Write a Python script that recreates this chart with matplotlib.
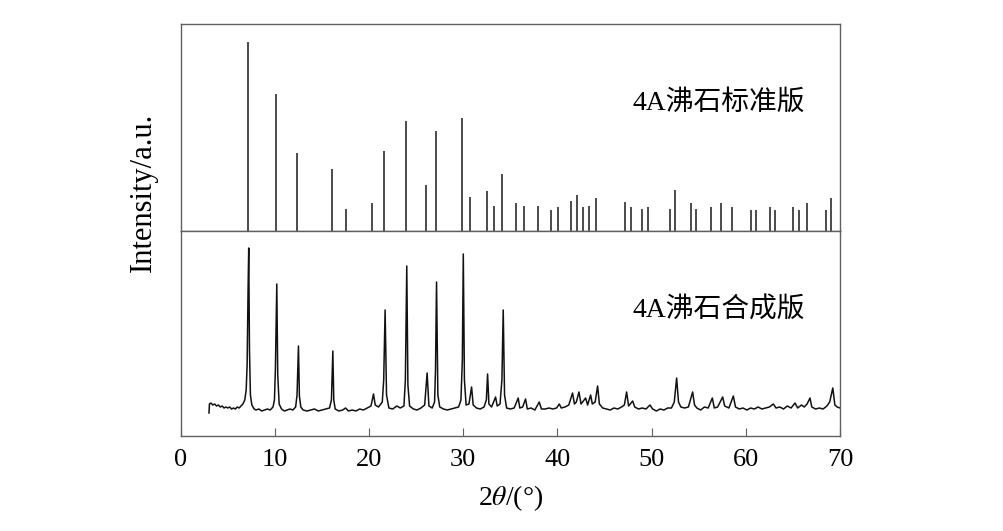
import matplotlib
matplotlib.use("Agg")
import matplotlib.pyplot as plt

plt.rcParams['font.family'] = ['Liberation Serif', 'Noto Sans CJK SC']
plt.rcParams['mathtext.fontset'] = 'stix'

# standard card (stick pattern): 2theta and relative intensity
std_2theta = [7.15, 10.09, 12.39, 16.04, 17.56, 20.32, 21.60, 23.94, 26.03, 27.05,
              29.88, 30.73, 32.47, 33.25, 34.10, 35.62, 36.40, 37.89, 39.27, 40.05,
              41.39, 42.07, 42.74, 43.38, 44.08, 47.20, 47.77, 48.97, 49.57, 51.91,
              52.44, 54.14, 54.70, 56.33, 57.36, 58.49, 60.51, 61.08, 62.57, 63.13,
              65.04, 65.65, 66.53, 68.52, 69.05]
std_int = [189, 137, 78, 62, 22, 28, 80, 110, 46, 100,
           113, 34, 40, 25, 57, 28, 25, 25, 21, 24,
           30, 36, 24, 25, 33, 29, 24, 22, 24, 22,
           41, 28, 22, 24, 28, 24, 21, 21, 24, 21,
           24, 21, 28, 21, 33]

# synthesized sample (measured trace)
syn_2theta = [3.0, 3.05, 3.2, 3.4, 3.6, 3.8, 4.0, 4.2, 4.4, 4.6, 4.8, 5.0, 5.2, 5.4,
              5.6, 5.8, 6.0, 6.2, 6.4, 6.6, 6.8, 6.95, 7.05, 7.15, 7.22, 7.3, 7.4,
              7.55, 7.8, 8.0, 8.3, 8.6, 8.9, 9.2, 9.5, 9.8, 9.95, 10.05, 10.2, 10.3,
              10.45, 10.7, 11.0, 11.3, 11.6, 11.9, 12.2, 12.35, 12.5, 12.6, 12.75,
              13.0, 13.4, 13.8, 14.2, 14.6, 15.0, 15.4, 15.8, 16.0, 16.15, 16.25,
              16.4, 16.8, 17.2, 17.5, 17.8, 18.2, 18.6, 19.0, 19.4, 19.8, 20.2,
              20.47, 20.65, 21.0, 21.4, 21.55, 21.7, 21.85, 22.1, 22.5, 22.95,
              23.3, 23.7, 23.85, 24.0, 24.12, 24.3, 24.7, 25.1, 25.5, 25.9, 26.16,
              26.35, 26.7, 26.95, 27.05, 27.16, 27.3, 27.5, 27.9, 28.3, 28.7, 29.1,
              29.5, 29.75, 29.9, 30.0, 30.12, 30.3, 30.6, 30.88, 31.05, 31.4, 31.8,
              32.2, 32.45, 32.58, 32.72, 33.0, 33.43, 33.6, 33.9, 34.1, 34.24,
              34.38, 34.6, 35.0, 35.4, 35.83, 36.0, 36.3, 36.61, 36.8, 37.2, 37.6,
              38.06, 38.3, 38.7, 39.1, 39.5, 39.9, 40.19, 40.4, 40.8, 41.2, 41.6,
              41.8, 42.0, 42.28, 42.5, 42.99, 43.2, 43.52, 43.7, 44.0, 44.26,
              44.45, 44.8, 45.2, 45.6, 46.0, 46.4, 46.8, 47.1, 47.34, 47.55,
              47.98, 48.2, 48.6, 49.0, 49.4, 49.82, 50.1, 50.5, 50.9, 51.3, 51.7,
              52.1, 52.4, 52.65, 52.85, 53.1, 53.5, 53.9, 54.35, 54.55, 54.8,
              55.2, 55.6, 56.0, 56.44, 56.65, 57.0, 57.54, 57.75, 58.2, 58.67,
              58.9, 59.3, 59.7, 60.1, 60.5, 60.9, 61.3, 61.7, 62.1, 62.5, 62.92,
              63.2, 63.6, 64.0, 64.4, 64.8, 65.22, 65.5, 65.9, 66.2, 66.5, 66.81,
              67.0, 67.4, 67.8, 68.2, 68.6, 68.9, 69.23, 69.45, 69.7, 70.0]
syn_int = [-3, 6, 7, 5, 6, 4, 5, 3, 4, 2, 3, 2, 3, 1,
           2, 1, 3, 2, 4, 6, 10, 20, 45, 120, 162, 60, 15,
           5, 1, 0, 1, -1, 0, 1, 0, 3, 10, 40, 126, 35,
           6, 1, -1, 0, 1, 0, 3, 15, 64, 14, 3,
           0, -1, 0, 1, -1, 0, 1, 2, 10, 59, 10,
           1, -1, 0, 2, -1, 0, -1, 1, 0, 2, 4,
           16, 5, 3, 8, 30, 100, 15, 2, 1, 4,
           2, 4, 30, 144, 25, 4, 1, 0, 2, 5, 37,
           4, 2, 8, 40, 128, 15, 3, 1, 0, 1, 2,
           3, 10, 50, 156, 30, 5, 6, 23, 5, 2, 1,
           3, 10, 36, 6, 3, 13, 4, 6, 30, 100,
           15, 2, 1, 2, 12, 2, 3, 11, 1, 2, 0,
           8, 1, 1, 2, 1, 2, 6, 2, 3, 5, 17,
           6, 8, 18, 6, 12, 5, 15, 6, 8, 24,
           6, 2, 1, 0, 2, 1, 3, 5, 18, 4,
           9, 3, 1, 2, 1, 5, 1, -1, 1, 0, 2,
           2, 8, 32, 8, 3, 2, 3, 18, 5, 2,
           0, 3, 2, 12, 2, 3, 13, 4, 2, 14,
           3, 1, 2, 0, 2, 1, 3, 1, 2, 3, 6,
           2, 3, 1, 4, 2, 7, 2, 5, 3, 6, 12,
           3, 1, 2, 1, 4, 8, 22, 5, 3, 2]

x_ticks = [0, 10, 20, 30, 40, 50, 60, 70]
std_label = "4A沸石标准版"
syn_label = "4A沸石合成版"

fig = plt.figure(figsize=(10.04, 5.31), dpi=100)
ax_top = fig.add_axes([0.180, 0.565, 0.6567, 0.3898])
ax_bot = fig.add_axes([0.180, 0.1789, 0.6567, 0.3861])

spine_color = '#606060'
for ax in (ax_top, ax_bot):
    ax.set_xlim(0, 70)
    ax.set_yticks([])
    for s in ax.spines.values():
        s.set_color(spine_color)
        s.set_linewidth(1.0)

ax_top.vlines(std_2theta, 0, std_int, color='#1a1a1a', linewidth=1.1)
ax_top.set_ylim(0, 207)
ax_top.set_xticks([])
ax_top.text(0.947, 0.62, std_label, transform=ax_top.transAxes, fontsize=20,
            ha='right', va='center')

ax_bot.plot(syn_2theta, syn_int, color='#111111', linewidth=1.1)
ax_bot.set_ylim(-26, 179)
ax_bot.set_xticks(x_ticks)
ax_bot.set_xticklabels([str(t) for t in x_ticks])
ax_bot.tick_params(axis='x', direction='in', length=6, width=0.8, color=spine_color,
                   labelsize=19, pad=9)
ax_bot.text(0.947, 0.61, syn_label, transform=ax_bot.transAxes, fontsize=20,
            ha='right', va='center')
ax_bot.set_xlabel(r'2$\theta$/(°)', fontsize=20, labelpad=9)

fig.text(143 / 1004, 1 - 192 / 531, 'Intensity/a.u.', rotation=90, fontsize=22,
         ha='center', va='center')

fig.savefig('out.png', dpi=100)
